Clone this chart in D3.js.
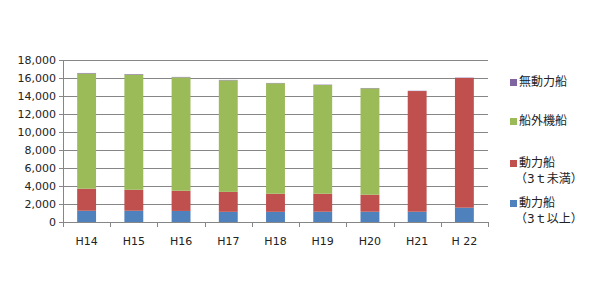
<!DOCTYPE html>
<html>
<head>
<meta charset="utf-8">
<script src="https://cdn.jsdelivr.net/npm/d3@7"></script>
<style>
  body { margin: 0; background: #fff; }
  text { font-family: "DejaVu Sans", "Noto Sans CJK JP", sans-serif; fill: #222; }
</style>
</head>
<body>
<div id="chart-container"></div>
<script>
// years along the x axis
const years = ["H14", "H15", "H16", "H17", "H18", "H19", "H20", "H21", "H 22"];

// series values (boats), stacked bottom to top
const over3t  = [1250, 1250, 1230, 1130, 1130, 1140, 1140, 1140, 1590];   // 動力船（3ｔ以上）
const under3t = [2450, 2330, 2240, 2220, 2010, 2000, 1890, 13410, 14410]; // 動力船（3ｔ未満）
const outboard = [12800, 12800, 12600, 12390, 12270, 12080, 11820, 0, 0]; // 船外機船
const unpowered = [60, 60, 50, 50, 40, 40, 40, 30, 40];                   // 無動力船

const yTicks = [0, 2000, 4000, 6000, 8000, 10000, 12000, 14000, 16000, 18000];

const seriesNames = ["over3t", "under3t", "outboard", "unpowered"];
const colors = { over3t: "#4F81BD", under3t: "#C0504D", outboard: "#9BBB59", unpowered: "#8064A2" };

// legend, top to bottom
const legendItems = [
  { key: "unpowered", lines: ["無動力船"] },
  { key: "outboard", lines: ["船外機船"] },
  { key: "under3t", lines: ["動力船", "（3ｔ未満）"] },
  { key: "over3t", lines: ["動力船", "（3ｔ以上）"] }
];

const svgWidth = 600;
const svgHeight = 300;
const margin = { top: 60, left: 63, right: 112, bottom: 78 };
const plotW = svgWidth - margin.left - margin.right;
const plotH = svgHeight - margin.top - margin.bottom;

const svg = d3.select("#chart-container").append("svg")
    .attr("width", svgWidth)
    .attr("height", svgHeight);

const g = svg.append("g").attr("transform", `translate(${margin.left},${margin.top})`);

const x = d3.scaleBand().domain(years).range([0, plotW]).paddingInner(0.6).paddingOuter(0.3);
const xEdge = d3.scaleLinear().domain([0, years.length]).range([0, plotW]);
const y = d3.scaleLinear().domain([0, 18000]).range([plotH, 0]);

// gridlines
g.selectAll(".grid").data(yTicks.slice(1)).enter().append("line")
    .attr("x1", 0).attr("x2", plotW)
    .attr("y1", d => Math.round(y(d)) + 0.5).attr("y2", d => Math.round(y(d)) + 0.5)
    .attr("stroke", "#868686").attr("stroke-width", 1);

// stack the data
const rows = years.map((yr, i) => ({
  year: yr, over3t: over3t[i], under3t: under3t[i], outboard: outboard[i], unpowered: unpowered[i]
}));
const stacked = d3.stack().keys(seriesNames)(rows);

g.selectAll(".series").data(stacked).enter().append("g")
    .attr("fill", d => colors[d.key])
    .selectAll("rect").data(d => d).enter().append("rect")
    .attr("x", d => x(d.data.year))
    .attr("width", x.bandwidth())
    .attr("y", d => y(d[1]))
    .attr("height", d => y(d[0]) - y(d[1]));

// y axis
const yAxis = g.append("g")
    .call(d3.axisLeft(y).tickValues(yTicks).tickSize(4).tickPadding(3).tickFormat(d3.format(",")));
yAxis.select(".domain").attr("stroke", "#868686");
yAxis.selectAll(".tick line").attr("stroke", "#868686");
yAxis.selectAll("text").style("font-size", "11px").attr("fill", "#222");

// x axis line with ticks between categories
g.append("line")
    .attr("x1", 0).attr("x2", plotW)
    .attr("y1", plotH + 0.5).attr("y2", plotH + 0.5)
    .attr("stroke", "#868686");
g.selectAll(".xtick").data(d3.range(years.length + 1)).enter().append("line")
    .attr("x1", d => Math.round(xEdge(d)) + 0.5).attr("x2", d => Math.round(xEdge(d)) + 0.5)
    .attr("y1", plotH).attr("y2", plotH + 5)
    .attr("stroke", "#868686");
g.selectAll(".xlabel").data(years).enter().append("text")
    .attr("x", d => x(d) + x.bandwidth() / 2)
    .attr("y", plotH + 23)
    .attr("text-anchor", "middle")
    .style("font-size", "11px")
    .text(d => d);

// legend
const legendY = [82, 121, 163, 203];
const legend = svg.append("g");
legendItems.forEach((item, i) => {
  const ly = legendY[i];
  legend.append("rect")
      .attr("x", 510).attr("y", ly - 3)
      .attr("width", 7).attr("height", 7)
      .attr("fill", colors[item.key]);
  item.lines.forEach((line, j) => {
    legend.append("text")
        .attr("x", j === 0 ? 519 : 515)
        .attr("y", ly + 4 + j * 16)
        .style("font-size", "12px")
        .text(line);
  });
});
</script>
</body>
</html>
